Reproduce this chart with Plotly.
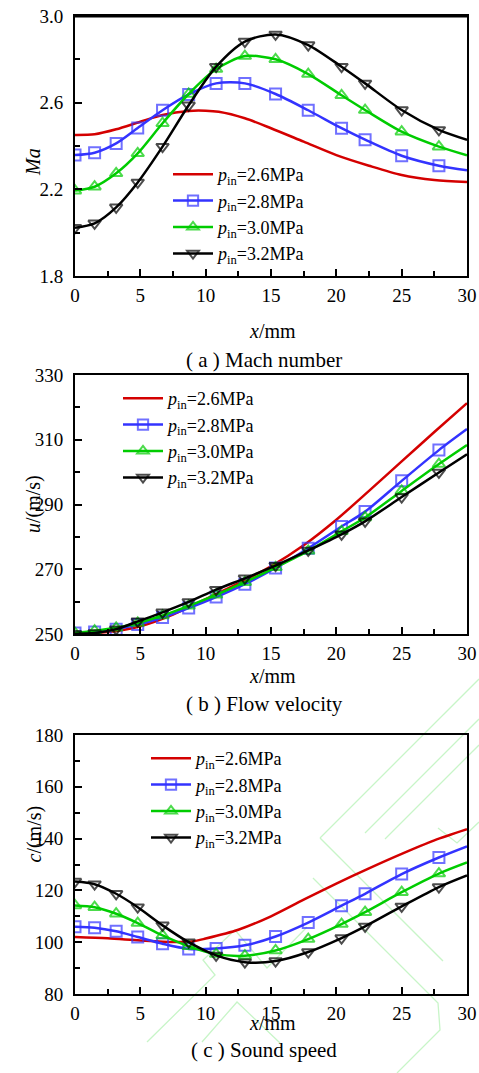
import plotly.graph_objects as go

# marker stations along the nozzle (mm); last point (30) carries no marker
x_mk = [0, 1.5, 3.15, 4.8, 6.7, 8.7, 10.8, 13.0, 15.35, 17.85, 20.4, 22.2, 25.0, 27.85, 30]
x_red = [0, 1.5, 3.15, 5, 6.7, 8.7, 10, 11, 13, 15, 17.5, 20, 22.5, 25, 27.5, 30]

names = ["2.6", "2.8", "3.0", "3.2"]
colors = ["#d40000", "#3333ff", "#00cc00", "#000000"]
symbols = [None, "square-open", "triangle-up-open", "triangle-down-open"]

# (a) Mach number
ma_26 = [2.451, 2.454, 2.477, 2.512, 2.543, 2.562, 2.563, 2.558, 2.528, 2.482, 2.42, 2.358, 2.309, 2.266, 2.243, 2.234]
ma_28 = [2.358, 2.369, 2.412, 2.483, 2.565, 2.638, 2.689, 2.689, 2.64, 2.565, 2.482, 2.429, 2.355, 2.309, 2.288]
ma_30 = [2.194, 2.212, 2.274, 2.366, 2.505, 2.64, 2.755, 2.815, 2.8, 2.732, 2.634, 2.566, 2.466, 2.397, 2.357]
ma_32 = [2.023, 2.043, 2.117, 2.232, 2.397, 2.588, 2.766, 2.882, 2.915, 2.866, 2.766, 2.689, 2.566, 2.474, 2.428]

# (b) flow velocity, m/s
x_red_u = [0, 2.5, 5, 7.5, 10, 12.5, 15, 17.5, 20, 22.5, 25, 27.5, 30]
u_26 = [250.0, 250.6, 252.4, 256.0, 260.8, 265.6, 270.9, 277.4, 285.3, 294.2, 303.3, 312.4, 321.3]
u_28 = [250.3, 250.6, 251.5, 252.9, 255.1, 258.0, 261.4, 265.4, 270.4, 276.5, 283.2, 287.8, 297.3, 306.8, 313.3]
u_30 = [250.3, 251.0, 251.9, 253.4, 255.7, 258.7, 262.1, 266.0, 270.6, 275.7, 281.7, 286.0, 294.2, 302.5, 308.4]
u_32 = [250.1, 250.3, 251.5, 253.9, 256.7, 259.9, 263.7, 267.2, 271.1, 275.8, 280.8, 284.8, 292.3, 299.9, 305.5]

# (c) sound speed, m/s
x_red_c = [0, 2.5, 5, 7.5, 9, 10, 12.5, 15, 17.5, 20, 22.5, 25, 27.5, 30]
c_26 = [102.0, 101.5, 100.7, 100.1, 100.3, 101.4, 104.8, 110.0, 116.4, 122.6, 128.5, 134.1, 139.3, 143.6]
c_28 = [106.0, 105.6, 104.2, 102.0, 99.4, 97.4, 97.6, 98.8, 102.2, 107.6, 114.1, 118.7, 126.3, 132.7, 137.0]
c_30 = [114.2, 113.5, 111.0, 107.4, 102.6, 98.4, 95.4, 94.8, 96.8, 101.2, 107.0, 111.6, 119.3, 126.5, 130.8]
c_32 = [123.4, 122.4, 118.7, 113.5, 106.5, 100.0, 94.9, 92.3, 92.7, 96.2, 101.6, 106.1, 113.8, 121.3, 125.8]

panels = [
    (x_red, [ma_26, ma_28, ma_30, ma_32]),
    (x_red_u, [u_26, u_28, u_30, u_32]),
    (x_red_c, [c_26, c_28, c_30, c_32]),
]

FONT = "Liberation Serif, Times New Roman, serif"
W, H = 479, 1073
fig = go.Figure()

for p, (xr, series) in enumerate(panels):
    sfx = "" if p == 0 else str(p + 1)
    for i, ys in enumerate(series):
        label = "<i>p</i><sub>in</sub>=" + names[i] + "MPa"
        if i == 0:
            fig.add_trace(go.Scatter(
                x=xr, y=ys, mode="lines", name=label,
                line=dict(color=colors[i], width=2.5, shape="spline", smoothing=0.8),
                xaxis="x" + sfx, yaxis="y" + sfx, legend="legend" + sfx))
        else:
            sizes = [11] * (len(x_mk) - 1) + [0]
            fig.add_trace(go.Scatter(
                x=x_mk, y=ys, mode="lines+markers", name=label,
                line=dict(color=colors[i], width=2.5, shape="spline", smoothing=0.8),
                marker=dict(symbol=symbols[i], size=sizes, color=colors[i],
                            line=dict(width=2, color=colors[i])),
                xaxis="x" + sfx, yaxis="y" + sfx, legend="legend" + sfx))

# plot boxes in pixels: top, bottom
boxes = [(16, 276), (375, 634), (735, 994)]
x0, x1 = 75, 467
yranges = [(1.8, 3.0, 0.4, 0.2, ".1f"), (250, 330, 20, 10, "d"), (80, 180, 20, 10, "d")]
ytitles = ["<i>Ma</i>", "<i>u</i>/(m/s)", "<i>c</i>/(m/s)"]
captions = ["( a ) Mach number", "( b ) Flow velocity", "( c ) Sound speed"]
legpos = [(168, 156), (118, 380), (146, 740)]

layout = dict(template="none", width=W, height=H, margin=dict(l=0, r=0, t=0, b=0),
              paper_bgcolor="white", plot_bgcolor="rgba(0,0,0,0)",
              font=dict(family=FONT, size=19, color="black"), annotations=[], shapes=[])
tickfont = dict(family=FONT, size=19, color="black")
for p in range(3):
    sfx = "" if p == 0 else str(p + 1)
    top, bot = boxes[p]
    lo, hi, dt, mdt, fmt = yranges[p]
    layout["xaxis" + sfx] = dict(
        domain=[x0 / W, x1 / W], anchor="y" + sfx, range=[0, 30], dtick=5, tick0=0,
        ticks="inside", ticklen=7, tickwidth=1.5, tickcolor="black",
        minor=dict(dtick=2.5, ticks="inside", ticklen=5, tickwidth=1.5, tickcolor="black"),
        showline=True, linewidth=2, linecolor="black", mirror=True, showgrid=False, zeroline=False,
        tickfont=tickfont, ticklabelstandoff=1, automargin=False)
    layout["yaxis" + sfx] = dict(
        domain=[1 - bot / H, 1 - top / H], anchor="x" + sfx, range=[lo, hi], dtick=dt, tick0=lo,
        tickformat=fmt, ticks="inside", ticklen=7, tickwidth=1.5, tickcolor="black",
        minor=dict(dtick=mdt, ticks="inside", ticklen=5, tickwidth=1.5, tickcolor="black"),
        showline=True, linewidth=2, linecolor="black", mirror=True, showgrid=False, zeroline=False,
        tickfont=tickfont, ticklabelstandoff=6, automargin=False)
    lx, ly = legpos[p]
    layout["legend" + sfx] = dict(
        x=lx / W, y=1 - ly / H, xanchor="left", yanchor="top", bgcolor="rgba(0,0,0,0)",
        font=dict(family=FONT, size=18, color="black"), tracegroupgap=0, itemwidth=40)
    layout["annotations"] += [
        dict(text=ytitles[p], x=20 / W, y=1 - (top + bot) / 2 / H, xref="paper", yref="paper",
             textangle=-90, showarrow=False, font=dict(family=FONT, size=20)),
        dict(text="<i>x</i>/mm", x=272 / W, y=1 - (bot + 42) / H, xref="paper", yref="paper",
             showarrow=False, font=dict(family=FONT, size=20)),
        dict(text=captions[p], x=264 / W, y=1 - (bot + 70) / H, xref="paper", yref="paper",
             showarrow=False, font=dict(family=FONT, size=21)),
    ]

# heavier top frame on panel (a)
layout["shapes"].append(dict(type="line", xref="paper", yref="paper", x0=x0 / W, x1=x1 / W,
                             y0=1 - 16 / H, y1=1 - 16 / H, line=dict(color="black", width=3)))

# faint green watermark outlines in the lower right (pixel coords)
wm = [
    [(320, 838), (479, 679)],
    [(365, 833), (479, 719)],
    [(385, 839), (479, 745)],
    [(320, 838), (443, 961)],
    [(313, 878), (438, 1003), (440, 1030), (397, 1073)],
    [(147, 1042), (215, 975), (203, 960), (235, 930), (267, 968), (307, 927)],
    [(202, 1042), (237, 1002), (280, 1043)],
    [(438, 828), (457, 843), (479, 822)],
]
for pts in wm:
    d = "M " + " L ".join(f"{px / W:.4f},{1 - py / H:.4f}" for px, py in pts)
    layout["shapes"].append(dict(type="path", path=d, xref="paper", yref="paper",
                                 line=dict(color="#c8f5c8", width=1.3), layer="below"))

fig.update_layout(**layout)
fig.write_html("out.html", config={"displayModeBar": False},
               post_script="document.body.style.margin='0';document.body.style.overflow='hidden';")
